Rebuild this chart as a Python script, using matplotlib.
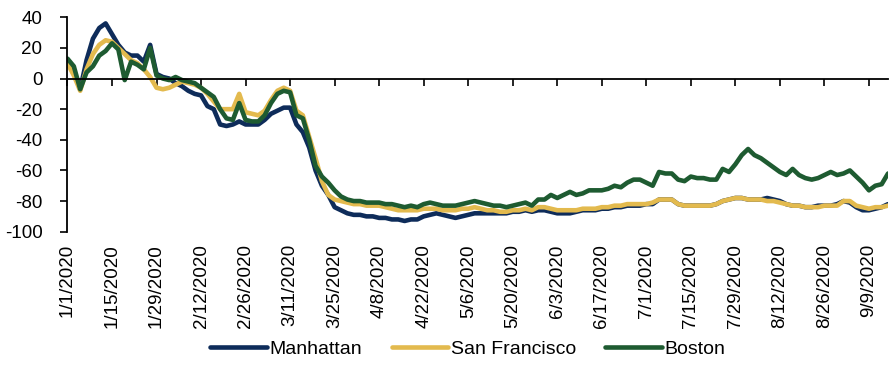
import numpy as np
import pandas as pd
import matplotlib
matplotlib.use("Agg")
import matplotlib.pyplot as plt
import matplotlib.dates as mdates

# every second day from 1/1/2020
dates = pd.date_range("2020-01-01", periods=130, freq="2D")

manhattan = [
    9, 5, -7, 12, 26, 33, 36, 29, 22, 17,
    15, 15, 11, 22, 3, 1, 0, -3, -5, -8,
    -10, -11, -18, -20, -30, -31, -30, -28, -30, -30,
    -30, -27, -23, -21, -19, -19, -30, -35, -45, -60,
    -70, -76, -84, -86, -88, -89, -89, -90, -90, -91,
    -91, -92, -92, -93, -92, -92, -90, -89, -88, -89,
    -90, -91, -90, -89, -88, -88, -88, -88, -88, -88,
    -87, -87, -86, -87, -86, -86, -87, -88, -88, -88,
    -87, -86, -86, -86, -85, -85, -84, -84, -83, -83,
    -83, -82, -82, -79, -79, -79, -82, -83, -83, -83,
    -83, -83, -82, -80, -79, -78, -78, -79, -79, -79,
    -78, -79, -80, -82, -83, -83, -84, -84, -83, -83,
    -83, -82, -80, -81, -84, -86, -86, -85, -84, -82,
]
san_francisco = [
    10, 2, -8, 6, 16, 22, 25, 24, 20, 16,
    12, 10, 6, 1, -6, -7, -6, -4, -2, -3,
    -4, -6, -10, -15, -20, -20, -20, -10, -22, -23,
    -24, -21, -14, -8, -6, -8, -21, -24, -38, -52,
    -67, -76, -79, -80, -81, -82, -82, -83, -83, -83,
    -84, -85, -86, -86, -86, -86, -85, -85, -85, -86,
    -86, -86, -85, -85, -84, -85, -86, -86, -87, -87,
    -86, -86, -85, -86, -84, -84, -85, -86, -86, -86,
    -86, -85, -85, -85, -84, -84, -83, -83, -82, -82,
    -82, -82, -81, -79, -79, -79, -82, -83, -83, -83,
    -83, -83, -82, -80, -79, -78, -78, -79, -79, -79,
    -80, -80, -81, -82, -83, -83, -84, -84, -84, -83,
    -83, -83, -80, -80, -83, -84, -85, -84, -84, -83,
]
boston = [
    13, 8, -7, 4, 8, 15, 18, 23, 19, -1,
    11, 9, 6, 20, 2, 0, -1, 1, -1, -2,
    -3, -6, -9, -12, -20, -26, -27, -16, -27, -28,
    -28, -24, -16, -10, -8, -9, -24, -26, -40, -57,
    -64, -68, -73, -77, -79, -80, -80, -81, -81, -81,
    -82, -82, -83, -84, -83, -84, -82, -81, -82, -83,
    -83, -83, -82, -81, -80, -81, -82, -83, -83, -84,
    -83, -82, -81, -83, -79, -79, -76, -78, -76, -74,
    -76, -75, -73, -73, -73, -72, -70, -71, -68, -66,
    -66, -68, -70, -61, -62, -62, -66, -67, -64, -65,
    -65, -66, -66, -59, -61, -56, -50, -46, -50, -52,
    -55, -58, -61, -63, -59, -63, -65, -66, -65, -63,
    -61, -63, -62, -60, -64, -68, -73, -70, -69, -62,
]

series = ["Manhattan", "San Francisco", "Boston"]
colors = ["#0E2C5A", "#E3BA4E", "#1E5B31"]

tick_dates = pd.date_range("2020-01-01", "2020-09-09", freq="14D")
y_ticks = np.arange(-100, 41, 20)

fig = plt.figure(figsize=(8.9, 3.67), dpi=100)
ax = fig.add_axes([0.0758, 0.3687, 0.922, 0.5842])

for name, vals, c in zip(series, [manhattan, san_francisco, boston], colors):
    ax.plot(dates, vals, color=c, lw=3.3, label=name, solid_capstyle="round")

ax.set_xlim(dates[0], dates[-1])
ax.set_ylim(-100, 40)
ax.set_yticks(y_ticks)
ax.set_yticklabels([str(v) for v in y_ticks], family="Liberation Sans", fontsize=13.5)

# horizontal axis line sits on zero, date labels below the plot
ax.spines["top"].set_visible(False)
ax.spines["right"].set_visible(False)
ax.spines["bottom"].set_position(("data", 0))
ax.spines["left"].set_bounds(-100, 40)
for sp in ["bottom", "left"]:
    ax.spines[sp].set_linewidth(1.3)
    ax.spines[sp].set_color("black")

ax.set_xticks(tick_dates)
ax.set_xticklabels([])
ax.tick_params(axis="x", direction="out", length=5, width=1.2)
ax.tick_params(axis="y", direction="out", length=5, width=1.2, pad=13)

for d in tick_dates:
    ax.annotate(f"{d.month}/{d.day}/{d.year}", xy=(mdates.date2num(d), 0),
                xycoords=("data", "axes fraction"), xytext=(0, -9),
                textcoords="offset points", rotation=90, ha="center", va="top",
                family="Liberation Sans", fontsize=13.5)

ax.legend(loc="center", bbox_to_anchor=(0.488, -0.547), ncol=3, frameon=False,
          handlelength=2.9, handletextpad=0.15, columnspacing=1.5,
          prop={"family": "Liberation Sans", "size": 14})

fig.savefig("out.png", dpi=100)
